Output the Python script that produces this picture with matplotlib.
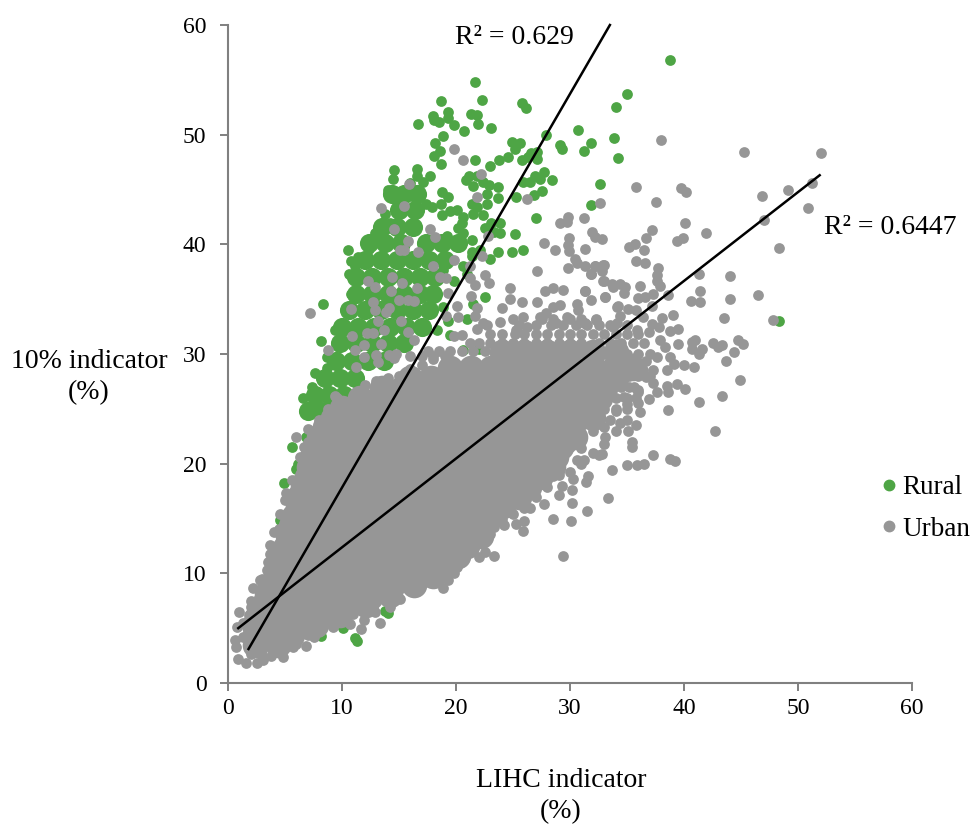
import numpy as np
import matplotlib
matplotlib.use('Agg')
import matplotlib.pyplot as plt
from matplotlib.lines import Line2D

plt.rcParams['font.family'] = ['Liberation Serif', 'DejaVu Serif']

# values, (LIHC %, 10% indicator %)
rural_points = [
    (21.7,54.8),(18.7,53.1),(22.3,53.2),(25.8,52.9),(26.1,52.4),(16.7,51.0),(18,51.7),(18.1,51.3),(18.5,51.2),
    (19.3,52.1),(19.3,51.5),(19.8,50.9),(21.3,51.9),(21.8,51.8),(21.9,51.0),(20.7,50.3),(23.1,50.6),(18.9,49.9),
    (18.2,49.2),(18.6,48.5),(18.1,48.1),(18.7,47.3),(21.7,47.7),(23,47.1),(23.8,47.7),(24.6,48),(24.9,49.3),
    (25.6,49.2),(25.2,48.7),(25.8,47.7),(26.3,48),(27.1,48.4),(27.1,47.8),(26.6,48.3),(27.9,50),(29.1,49.1),
    (29.3,48.7),(30.7,50.4),(31.8,49.2),(31.2,48.5),(34,52.5),(33.9,49.7),(34.2,47.9),(32.6,45.5),(31.8,43.6),
    (28.4,45.9),(27.7,46.6),(26.9,46.2),(27.4,46),(25.9,45.7),(26.5,45.7),(27.5,44.9),(26.8,44.5),(25.3,44.3),
    (27,42.4),(25.2,40.9),(25.9,39.5),(24.9,39.3),(23.7,39.3),(23.9,41),(23.9,41.9),(23.7,44.2),(23.7,45.2),
    (22.9,45.4),(22.4,45.7),(21.8,46.2),(21.1,46.2),(20.9,45.9),(21.5,45.3),(22.7,44.6),(22.7,43.7),(21.8,43.4),
    (21.4,43.7),(21.5,42.8),(22.4,42.7),(20.6,42.5),(20.1,43.1),(19.5,43),(18.8,42.7),(20.5,41.9),(20.2,41.5),
    (19.3,44.3),(18.8,44.8),(18.7,43.7),(17.4,43.7),(17.9,43.4),(23.1,41.9),(22.5,41.5),(23.3,41.1),
    (10.5,39.5),(10.8,38.5),(11.4,38.8),(10.6,37.3),(11.1,38),(12.2,40),(12.4,39.6),(13.1,40.4),(12.9,41),
    (14.2,41.9),(13.8,42.8),(14,45),(14.6,46.8),(14.5,46),(16.6,46.9),(17.7,46.2),(17.1,45.7),(16,45.6),
    (16.6,46.2),(8.3,34.6),(8.2,31.2),(8.7,29.7),(8.7,28.7),(7.6,28.3),(9.4,32.2),(10.3,32.6),(10.4,33.9),
    (10.8,35.5),(17.1,40.1),(19.2,40.8),(20.6,41),(21.4,40.4),(17.9,38.6),(18.9,37.7),(19.5,38.6),(21.4,39.3),
    (21.4,38.9),(23,38.7),(22.1,39.5),(20.6,38),(19.8,36.7),(21,37.3),(22.5,35.2),(21.5,34.6),(18.9,34.3),
    (19.3,33),(21,33.2),(18.3,32.2),(20.6,30.4),(22,30.5),(19.5,31.7),
    (11.3,3.8),(11.1,4.1),(10.1,5),(8.2,4.3),(13.8,6.6),(14,6.4),(4.9,18.2),(6,19.5),(6.1,20),(4.6,14.9),
    (4.7,14.5),(5.6,21.5),(6.8,22.4),(7.2,24.8),(6.6,26),(7.4,27),(9.2,29.4),(38.8,56.8),(35,53.7),(48.3,33),
]

# the solid middle of the rural cloud
rural_dense = [
    (14.4,44.6),(15.4,44.6),(16.6,44.6),(15,43.1),(16.4,43.1),(13.5,41.6),(14.8,41.6),(16.2,41.6),
    (12.4,40.1),(13.8,40.1),(15.2,40.1),(17.4,40.1),(18.8,40.1),(20.2,40.1),
    (12,38.6),(13.4,38.6),(14.8,38.6),(16.2,38.6),(17.6,38.6),(19,38.6),
    (11.2,37),(12.6,37),(14,37),(15.4,37),(16.8,37),(18.2,37),
    (11.2,35.5),(12.6,35.5),(14,35.5),(15.4,35.5),(16.8,35.5),(18,35.5),
    (10.6,34),(12,34),(13.4,34),(14.8,34),(16.2,34),(17.6,34),
    (10,32.5),(11.4,32.5),(12.8,32.5),(14.2,32.5),(15.6,32.5),(17,32.5),
    (9.8,31),(11.2,31),(12.6,31),(14,31),(15.4,31),(9.5,29.4),(10.9,29.4),(12.3,29.4),(13.7,29.4),
    (8.5,27.8),(9.8,27.8),(11.1,27.8),(7.6,26.3),(8.9,26.3),(10.2,26.3),(7,24.8),(8.2,24.8),
]

urban_points = [
    (19.8,48.7),(20.6,47.7),(22.2,46.4),(21.8,44.3),(26.2,44.1),(15.9,45.5),(15.4,43.5),(13.4,43.3),(14.6,41.4),
    (17.7,41.4),(18.2,40.7),(15.8,40.3),(15.1,39.5),(15.4,39.5),(16.7,39.3),(22.8,40.8),(22.3,38.9),(19.8,38.6),
    (18,38),(21.2,38),(22.5,37.2),(22.9,36.5),(21.2,36.9),(18.6,37),(19.1,36.9),(21.7,36.3),(19.3,35.6),(21.3,35.3),
    (16.6,36),(15.3,36.5),(14.4,37),(12.3,36.7),(12.9,36.1),(14.3,35.7),(15,34.9),(15.8,34.9),(16.3,34.8),(12.7,34.7),
    (12.9,34),(14.1,34.2),(13.9,33.8),(10.8,34.1),(7.2,33.7),(20.1,34.4),(21.8,34.2),(20.2,33.4),(19.1,33.5),(21.7,33.5),
    (15.2,33),(13.2,33),(13.7,32.2),(12.2,31.9),(12.7,31.9),(10.9,31.6),(15.8,32),(16.3,31.3),(13.4,30.9),(11.9,30.8),
    (11.1,30.4),(8.8,30.4),(13,29.9),(11.9,29.7),(14.1,29.9),(14.7,30),(14.6,29.6),(13.2,29.3),(11.2,28.8),(19.8,31.6),
    (20.5,31.7),(21.2,31),(22.4,32.8),(22.7,32.6),(21.8,32.3),
    (32.6,43.8),(29.8,42.5),(29.7,42),(29.1,41.9),(31.2,42.4),(31.9,41.1),(32.2,40.7),(32.8,40.5),(29.9,40.6),(27.7,40.1),
    (28.7,39.5),(29.8,39.9),(29.9,39.4),(31.3,39.6),(30.4,38.7),(30.6,38.3),(31.3,38),(29.8,37.8),(27.1,37.6),(31.8,37.3),
    (32.2,38),(32.9,38.1),(32.8,37.6),(32.9,36.7),(33.8,36.1),(24.7,36),(24.7,35),(24,34.2),(25.8,34.7),(25.9,33.4),
    (25,33.2),(23.9,32.9),(27.8,35.7),(28.5,36),(29.4,35.8),(27.1,34.7),(29.1,34.5),(31.3,35.7),(31.8,34.9),(33.1,35.2),
    (30.6,34.6),(30.7,34),(32.3,33.2),(31.2,32.8),(27.9,33.7),(28.5,34.3),(29.7,33.4),(27.4,33.4),(26.2,32.5),(28.8,32.8),
    (25.3,32.2),(34.1,34.3),(33.8,32.5),
    (38,49.5),(45.3,48.4),(52,48.3),(35.8,45.2),(39.7,45.1),(40.2,44.8),(37.5,43.9),(46.8,44.4),(49.1,45),(51.2,45.6),
    (50.9,43.3),(47,42.2),(48.3,39.7),(40.1,41.9),(41.9,41),(39.4,40.3),(39.9,40.6),(37.2,41.3),(36.7,40.6),(35.2,39.8),
    (35.7,40),(36.5,39.5),(35.8,38.5),(36.6,38.3),(37.7,37.8),(37.6,37.2),(37.6,36.7),(37.9,36.2),(41.3,37.3),(44,37.1),
    (41.4,35.7),(44,35),(46.5,35.4),(40.6,34.8),(41.4,34.7),(38.6,35.4),(37.3,35.5),(36.6,35.2),(36,35.1),(36.1,36.2),
    (47.8,33.1),(43.5,33.3),(39,33.6),(38.1,33.3),(33,38.1),(32.2,38),(31.8,37.3),(33,36.7),(33.7,36.4),(34.4,36.4),
    (34.8,36.1),(34.7,35.6),(33.1,35.2),(31.3,35.7),(34.2,34.4),(35.1,34.1),(35.8,34),(34.4,33.5),(37.2,34.4),(36.4,33.4),
    (32.3,33.1),(31.3,32.8),(34.1,32.8),(37.2,32.7),(37.8,32.5),(38.8,32.1),(39.5,32.3),(35.9,32.2),(36.9,32),(37.9,31.3),
    (38.3,30.6),(39.5,30.9),(40.7,31.1),(41,31.3),(40.7,30.5),(41.6,30.5),(41.3,30),(42.5,31),(43.3,30.8),(43,30.6),
    (44.7,31.3),(45.2,30.9),(44.4,30.2),(43.7,29.4),(40,29),(40.9,28.8),(38.5,28.5),(39.1,29.1),(38.8,29.7),(37.6,29.7),
    (36.7,29.4),(36.4,28.5),(35.7,29.6),(37.3,28.5),(44.9,27.6),(43.3,26.2),(41.3,25.6),(38.6,24.9),(42.7,23),(40.1,26.8),
    (39.4,27.3),(38.5,27.1),(38.6,26.5),(37.6,26.5),(37.3,27.4),(36.9,25.9),(36.1,24.7),(35.8,23.5),(35.1,23),(35.4,22),
    (35.4,21.5),(34.4,23.7),(33.1,22.4),(32.8,20.9),(37.3,20.8),(38.8,20.4),(39.2,20.2),(36.5,20),(35.9,19.9),(35,19.9),
    (33.7,19.4),(34.7,26.1),(35.6,27),(36,26.7),(36.7,27.9),(33.3,16.9),
    (29.4,11.6),(28.5,15),(30.1,14.8),(31.5,15.7),(30.2,16.4),(29,17.1),(29.3,18),(30.2,17.6),(30.3,18.6),(31.4,18.3),
    (31.6,18.9),(27.7,16.3),(25.9,13.9),(25.3,14.5),(26,14.8),(24.2,14.4),(23.3,11.6),(22.5,11.9),(22,11.5),(21.8,12.7),
    (21.4,12.3),(20.8,11.5),(20.1,10.6),(19.3,9.4),(18.9,8.7),(16.3,8.3),(15.1,7.7),(14.2,6.9),(13.3,5.5),(11.7,4.9),
    (12.9,6.5),(10.7,5.4),(9.2,5.1),(8.1,4.7),(6.8,3.4),(4.8,2.4),(3.8,2.5),(2.5,1.8),(1.6,1.8),(.9,2.2),(.7,3.3),(1,6.5),
    (2.2,8.7),(4,13.8),(3.7,12.6),(5,16.7),(6,22.4),(7,23.2),(9.4,26.2),(6.7,21.5),(23.3,14.2),(22.4,13.8),(26.5,16),
    (28,17.9),(28.5,18.9),(30.6,20.3),(31.2,20.3),(32.5,20.8),(16.8,9.4),(18,9.7),(19.8,10),(15.7,8.8),(11.9,5.7),(10,5.7),
    (5.7,3.3),(3.1,2.1),(7.5,4.2),(2,6.9),(2.8,9.4),(3.4,10.3),(3.7,11.8),(4.6,15.4),(5.1,17.3),(5.6,18.5),(6.3,20.6),
    (.8,5.1),(.6,3.9),
    # bands along the edge of the solid cloud
    (3,3),(4,3),(5,3.2),(6,3.6),(7,4.4),(8,5),(9,5.6),(10,6.2),(11,6.3),(12,6.8),(13,7.4),(14,7.8),(15,8.6),(16,9.1),
    (17,10),(18,10.4),(19,10.8),(20,11.4),(21,12.8),(22,13),(23,13.6),(24,15),(25,15.4),(26,16),(27,17),(28,18.5),
    (29,19),(30,19.2),(31,20),(32,21),(33,21.8),(34,23),(35,24),(36,25.5),
    (5,4.5),(7,5.6),(9,7),(11,7.5),(13,8.8),(15,10),(17,11.5),(19,12.3),(21,14),(23,15),(25,16.8),(27,18.4),(29,20.2),
    (31,21.4),(33,23.3),(35,25.4),(22,15.3),(24,16.6),(26,18),(28,20),(30,21.5),(32,23),(34,24.8),(36,26.5),(37,28),
    (32.5,24),(33.5,24),(32,25),(33,25),(34,25),(35,25),(33,26),(34,26),(35,26),(35.8,26),(33.5,27),(34.5,27),(35.2,27),
    (33,28),(34.2,28),(35.2,28),(36,28),(34.5,29),(35.5,29),(33,30),(34,30),(35,30),(36,30),(37,30),
    (31,31),(32.5,31),(33.5,31),(34.5,31),(35.5,31),(36.5,31),
    (16,29.8),(17,29.8),(18,29.8),(19,29.8),(17.5,30.3),(18.5,30.3),(19.5,30.3),(20.5,30.3),(21.5,30.3),(22.5,30.3),
    (23.5,30.3),(24.5,30.3),(25.5,30.3),(26.5,30.3),(27.5,30.3),(28.5,30.3),(29.5,30.3),(30.5,30.3),(31.5,30.3),(32.5,30.3),
    (22,31),(23,31),(24,31),(25,31),(26,31),(27,31),(28,31),(29,31),(30,31),
    (23,31.8),(24,31.8),(25.2,31.8),(26,31.8),(27,31.8),(28,31.8),(29,31.8),(30,31.8),(31,31.8),(32,31.8),(33,31.8),
    (34,31.8),(35,31.8),(36,31.8),(25.5,32.6),(27,32.6),(28.3,32.6),(29.4,32.6),(30.5,32.6),(31.5,32.6),(32.5,32.6),
    (33.5,32.6),(35,32.6),(27.5,33.2),(28.5,33.2),(30,33.2),(31,33.2),
    (12,27.2),(13,27.5),(14,27.8),(15,28),(16,28.6),(17,29),(18,29.5),
    (1.3,4.2),(1.8,3.2),(2,2.6),(1.3,5.5),(1.8,6.2),(2.8,7.5),(3.2,8.5),(3,2.5),(4,4),
    (2,7.5),(3,9.5),(3.5,11),(4.2,12.5),(4.5,14),(5,15),(5.5,16.5),(5.8,17.5),(6,18.5),(6.5,19.5),(6.8,21),(7,22),
    (7.5,23),(8,24),(8.8,25),(9.6,26),
]

# the solid middle of the urban cloud, x values for each y level
urban_dense_y = [3.5, 4.4, 5.3, 6.2, 7.1, 8.0, 8.9, 9.8, 10.7, 11.6, 12.5, 13.4, 14.3, 15.2, 16.1, 17.0, 17.9, 18.8,
                 19.7, 20.6, 21.5, 22.4, 23.3, 24.2, 25.1, 26.0, 26.9, 27.8, 28.7, 30.2]
urban_dense_x = [
    [2.4, 4.4],
    [2.4, 4, 5.6],
    [2.3, 4.1, 5.9, 7.7],
    [2.6, 4.4, 6.2, 8, 9.8],
    [3.1, 4.9, 6.7, 8.5, 10.3, 12.1],
    [3.4, 5.2, 7, 8.8, 10.6, 12.4, 14.2],
    [3.7, 5.5, 7.3, 9.1, 10.9, 12.7, 14.5, 16.3],
    [4.2, 6, 7.8, 9.6, 11.4, 13.2, 15, 16.8, 18],
    [4.6, 6.4, 8.2, 10, 11.8, 13.6, 15.4, 17.2, 18.8],
    [4.9, 6.7, 8.5, 10.3, 12.1, 13.9, 15.7, 17.5, 19.3, 20.2],
    [5.1, 6.9, 8.7, 10.5, 12.3, 14.1, 15.9, 17.7, 19.5, 21],
    [5.3, 7.1, 8.9, 10.7, 12.5, 14.3, 16.1, 17.9, 19.7, 21.5, 22.2],
    [5.5, 7.3, 9.1, 10.9, 12.7, 14.5, 16.3, 18.1, 19.9, 21.7],
    [5.8, 7.6, 9.4, 11.2, 13, 14.8, 16.6, 18.4, 20.2, 22, 23.2],
    [6.1, 7.9, 9.7, 11.5, 13.3, 15.1, 16.9, 18.7, 20.5, 22.3, 24.1],
    [6.3, 8.1, 9.9, 11.7, 13.5, 15.3, 17.1, 18.9, 20.7, 22.5, 24.3, 25.5],
    [6.6, 8.4, 10.2, 12, 13.8, 15.6, 17.4, 19.2, 21, 22.8, 24.6, 26.4],
    [6.9, 8.7, 10.5, 12.3, 14.1, 15.9, 17.7, 19.5, 21.3, 23.1, 24.9, 26.7, 27.4],
    [7.1, 8.9, 10.7, 12.5, 14.3, 16.1, 17.9, 19.7, 21.5, 23.3, 25.1, 26.9, 28.5],
    [7.4, 9.2, 11, 12.8, 14.6, 16.4, 18.2, 20, 21.8, 23.6, 25.4, 27.2, 28.8],
    [7.6, 9.4, 11.2, 13, 14.8, 16.6, 18.4, 20.2, 22, 23.8, 25.6, 27.4, 29.2],
    [8, 9.8, 11.6, 13.4, 15.2, 17, 18.8, 20.6, 22.4, 24.2, 26, 27.8, 29.6, 30.4],
    [8.5, 10.3, 12.1, 13.9, 15.7, 17.5, 19.3, 21.1, 22.9, 24.7, 26.5, 28.3, 30.1],
    [9.2, 11, 12.8, 14.6, 16.4, 18.2, 20, 21.8, 23.6, 25.4, 27.2, 29, 30.8, 32],
    [10, 11.8, 13.6, 15.4, 17.2, 19, 20.8, 22.6, 24.4, 26.2, 28, 29.8, 31.4],
    [11.6, 13.4, 15.2, 17, 18.8, 20.6, 22.4, 24.2, 26, 27.8, 29.6, 31.4, 32.6],
    [13.5, 15.3, 17.1, 18.9, 20.7, 22.5, 24.3, 26.1, 27.9, 29.7, 31.5, 33.1],
    [16, 17.8, 19.6, 21.4, 23.2, 25, 26.8, 28.6, 30.4, 32.2, 34],
    [19.5, 21.3, 23.1, 24.9, 26.7, 28.5, 30.3, 32.1, 33.9, 35.5],
    [24, 26, 28, 30, 32, 34],
]

# trend line end points
rural_line_x = [1.8, 33.5]
rural_line_y = [3.1, 60]
urban_line_x = [0.9, 51.9]
urban_line_y = [5.0, 46.3]

ticks = [0, 10, 20, 30, 40, 50, 60]

GREEN = '#4ea545'
GREY = '#969696'

fig = plt.figure(figsize=(9.74, 8.24), dpi=100)
ax = fig.add_axes([228 / 974, 141 / 824, 684 / 974, 658 / 824])

rx, ry = np.array(rural_points).T
rdx, rdy = np.array(rural_dense).T
ux, uy = np.array(urban_points).T
udx = np.concatenate(urban_dense_x)
udy = np.repeat(urban_dense_y, [len(row) for row in urban_dense_x])

ax.scatter(rdx, rdy, s=190, color=GREEN, linewidths=0, zorder=2)
ax.scatter(rx, ry, s=60, color=GREEN, linewidths=0, zorder=2)
ax.scatter(udx, udy, s=340, color=GREY, linewidths=0, zorder=3)
ax.scatter(ux, uy, s=60, color=GREY, linewidths=0, zorder=3)

ax.plot(rural_line_x, rural_line_y, color='black', lw=1.8, zorder=4, clip_on=False)
ax.plot(urban_line_x, urban_line_y, color='black', lw=1.8, zorder=4)

ax.set_xlim(0, 60)
ax.set_ylim(0, 60)
ax.set_xticks(ticks)
ax.set_yticks(ticks)
ax.tick_params(labelsize=17, length=5.5, width=1.4, color='#808080', labelcolor='black')
ax.tick_params(axis='y', pad=10)
ax.tick_params(axis='x', pad=5)
ax.spines['top'].set_visible(False)
ax.spines['right'].set_visible(False)
ax.spines['left'].set_color('#808080')
ax.spines['bottom'].set_color('#808080')
ax.spines['left'].set_linewidth(1.5)
ax.spines['bottom'].set_linewidth(1.5)

fig.text(514 / 974, 1 - 37 / 824, 'R² = 0.629', fontsize=20, ha='center', va='center')
fig.text(890 / 974, 1 - 227 / 824, 'R² = 0.6447', fontsize=20, ha='center', va='center')
fig.text(89 / 974, 1 - 377 / 824, '10% indicator\n(%)', fontsize=20, ha='center', va='center', linespacing=1.35)
fig.text(561 / 974, 1 - 796 / 824, 'LIHC indicator\n(%)', fontsize=20, ha='center', va='center', linespacing=1.35)

handles = [
    Line2D([], [], marker='o', ls='', color=GREEN, markersize=7.5, label='Rural'),
    Line2D([], [], marker='o', ls='', color=GREY, markersize=7.5, label='Urban'),
]
fig.legend(handles=handles, loc='center left', bbox_to_anchor=(873 / 974, 1 - 508.5 / 824), frameon=False,
           fontsize=19.5, handletextpad=-0.12, labelspacing=0.62, handlelength=1.2, borderpad=0, borderaxespad=0)

fig.savefig('out.png', dpi=100)
